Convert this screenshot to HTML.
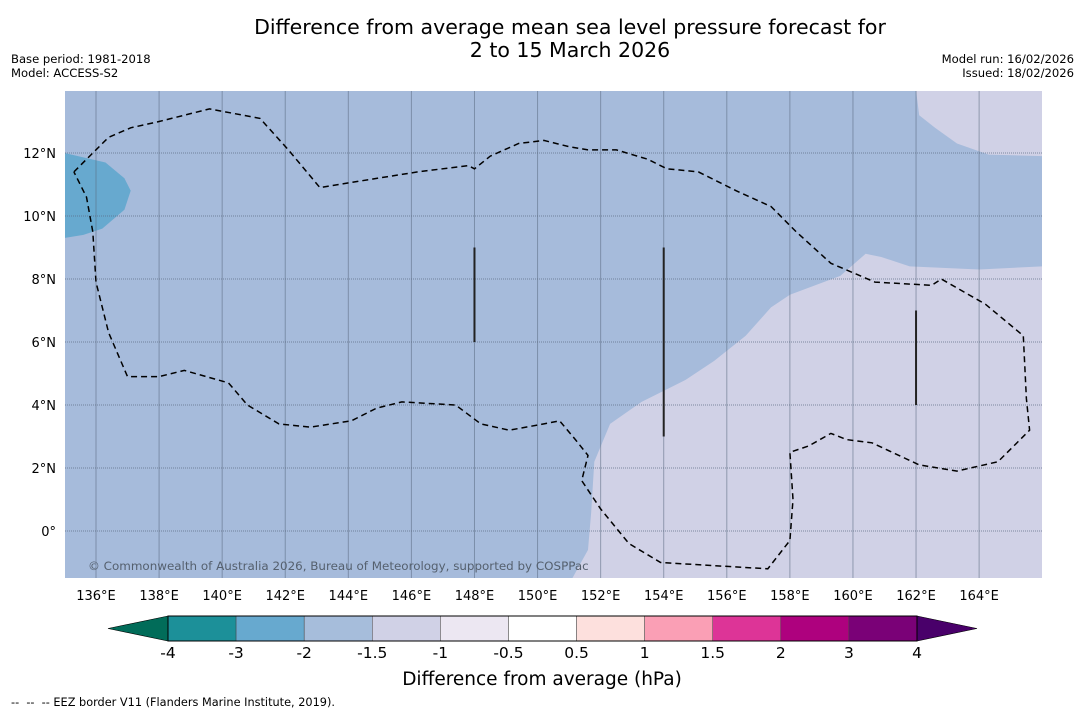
<!DOCTYPE html>
<html><head><meta charset="utf-8"><style>
body{margin:0;background:#fff;font-family:"DejaVu Sans","Liberation Sans",sans-serif;}
svg text{font-family:"DejaVu Sans","Liberation Sans",sans-serif;}
</style></head><body>
<svg id="c" width="1085" height="713" xmlns="http://www.w3.org/2000/svg">
<text x="570" y="34" text-anchor="middle" font-size="20.5">Difference from average mean sea level pressure forecast for</text>
<text x="570" y="57" text-anchor="middle" font-size="20.5">2 to 15 March 2026</text>
<text x="11" y="63" font-size="11.6">Base period: 1981-2018</text>
<text x="11" y="77" font-size="11.6">Model: ACCESS-S2</text>
<text x="1074" y="63" font-size="11.6" text-anchor="end">Model run: 16/02/2026</text>
<text x="1074" y="77" font-size="11.6" text-anchor="end">Issued: 18/02/2026</text>
<defs><clipPath id="mc"><rect x="65" y="91" width="977" height="487"/></clipPath></defs>
<g id="map" clip-path="url(#mc)"></g>
<g id="axes"></g>
<g id="cbar"></g>
<text x="542" y="685" text-anchor="middle" font-size="18.5">Difference from average (hPa)</text>
<text x="11" y="706" font-size="11.3" xml:space="preserve">--  --  -- EEZ border V11 (Flanders Marine Institute, 2019).</text>
</svg>
<script>
const lonTicks=[136,138,140,142,144,146,148,150,152,154,156,158,160,162,164];
const latTicks=[0,2,4,6,8,10,12];
const cbLevels=["-4","-3","-2","-1.5","-1","-0.5","0.5","1","1.5","2","3","4"];
const cbColors=["#1c9099","#67a9cf","#a6bddb","#d0d1e6","#ece7f2","#ffffff","#fde0dd","#fa9fb5","#dd3497","#ae017e","#7a0177"];
// polygons in lon/lat
const lowRegion=[[135,12],[136.3,11.7],[136.9,11.2],[137.1,10.8],[136.9,10.2],[136.2,9.6],[135.6,9.4],[135,9.3]];
const lavRegionNE=[[162,14],[162.1,13.2],[162.6,12.8],[163.3,12.3],[164.3,11.95],[166,11.9],[166,14]];
const lavRegionSE=[[151.1,-1.5],[151.6,-0.6],[151.7,0.6],[151.8,2.2],[152.3,3.4],[153.3,4.1],[154.7,4.8],[155.6,5.4],[156.6,6.2],[157.4,7.1],[158,7.5],[159.6,8.1],[160.4,8.8],[160.9,8.7],[161.8,8.4],[164,8.3],[166,8.4],[166,-1.5]];
const eez=[[135.3,11.4],[135.8,11.9],[136.4,12.5],[137.1,12.8],[138,13],[139.6,13.4],[141.2,13.1],[142.1,12.1],[143.1,10.9],[144.3,11.1],[146.2,11.4],[147.8,11.6],[148,11.5],[148.5,11.9],[149.4,12.3],[150.2,12.4],[151,12.2],[151.6,12.1],[152.5,12.1],[153.5,11.8],[154.1,11.5],[155.1,11.4],[156.3,10.8],[157.4,10.3],[158.2,9.5],[159.3,8.5],[160.7,7.9],[162.5,7.8],[162.8,8],[164.2,7.2],[165.4,6.2],[165.5,4.2],[165.6,3.2],[164.6,2.2],[163.3,1.9],[162.1,2.1],[160.6,2.8],[159.8,2.9],[159.3,3.1],[158.6,2.7],[158,2.5],[158.1,1],[158,-0.3],[157.3,-1.2],[153.9,-1],[152.9,-0.4],[152,0.7],[151.4,1.6],[151.6,2.4],[151.2,2.9],[150.7,3.5],[150.2,3.4],[149.1,3.2],[148.2,3.4],[147.4,4],[145.7,4.1],[144.9,3.9],[144.1,3.5],[142.8,3.3],[141.8,3.4],[140.8,4],[140.2,4.7],[138.8,5.1],[138,4.9],[137,4.9],[136.4,6.3],[136,7.9],[135.9,9.5],[135.7,10.6],[135.3,11.4]];
const vLines=[[148,6,9],[154,3,9],[162,4,7]];
const NS="http://www.w3.org/2000/svg";
const X=lon=>96+(lon-136)*31.54;
const Y=lat=>531-lat*31.5;
function el(tag,attrs,parent){const e=document.createElementNS(NS,tag);for(const k in attrs)e.setAttribute(k,attrs[k]);parent.appendChild(e);return e;}
const map=document.getElementById('map'),axes=document.getElementById('axes'),cb=document.getElementById('cbar');
const pts=a=>a.map(p=>X(p[0]).toFixed(1)+','+Y(p[1]).toFixed(1)).join(' ');
let bg=el('rect',{x:65,y:91,width:977,height:487,fill:'#a6bbdb'},map);


let r1=el('polygon',{points:pts(lowRegion),fill:'#67a9cf'},map);


let r2=el('polygon',{points:pts(lavRegionNE),fill:'#d0d1e6'},map);


let r3=el('polygon',{points:pts(lavRegionSE),fill:'#d0d1e6'},map);


lonTicks.forEach(l=>{
 let g=el('line',{x1:X(l),x2:X(l),y1:91,y2:578,stroke:'#5a6a80','stroke-opacity':0.55,'stroke-width':1},map);
 
 
 let t=el('text',{x:X(l),y:600,'text-anchor':'middle','font-size':13},axes);t.textContent=l+'°E';
 
 
});
latTicks.forEach(l=>{
 let g=el('line',{x1:65,x2:1042,y1:Y(l),y2:Y(l),stroke:'#5a6a80','stroke-opacity':0.7,'stroke-width':1,'stroke-dasharray':'1,1'},map);
 
 
 let t=el('text',{x:56,y:Y(l)+5,'text-anchor':'end','font-size':13},axes);t.textContent=l===0?'0°':l+'°N';
 
 
});
let e=el('polyline',{points:pts(eez),fill:'none',stroke:'#000','stroke-width':1.5,'stroke-dasharray':'6,4'},map);


vLines.forEach(v=>{let l=el('line',{x1:X(v[0]),x2:X(v[0]),y1:Y(v[2]),y2:Y(v[1]),stroke:'#222','stroke-width':2},map);
 
 });
let cp=el('text',{x:88,y:570,'font-size':11.9,fill:'#55606e'},map);cp.textContent='© Commonwealth of Australia 2026, Bureau of Meteorology, supported by COSPPac';


// colorbar
const cx0=168,cx1=917,cy=616,ch=25,sw=(cx1-cx0)/cbColors.length;
let lt=el('polygon',{points:`${cx0},${cy} 108,${cy+ch/2} ${cx0},${cy+ch}`,fill:'#016c59',stroke:'#000','stroke-width':0.6},cb);


let rt=el('polygon',{points:`${cx1},${cy} 977,${cy+ch/2} ${cx1},${cy+ch}`,fill:'#49006a',stroke:'#000','stroke-width':0.6},cb);


cbColors.forEach((c,i)=>{let r=el('rect',{x:cx0+i*sw,y:cy,width:sw,height:ch,fill:c,stroke:'#444','stroke-width':0.5},cb);
 
 });
el('rect',{x:cx0,y:cy,width:cx1-cx0,height:ch,fill:'none',stroke:'#000','stroke-width':1},cb);
cbLevels.forEach((s,i)=>{let t=el('text',{x:cx0+i*sw,y:658,'text-anchor':'middle','font-size':15.5},cb);t.textContent=s;
 
 });
</script>
</body></html>
